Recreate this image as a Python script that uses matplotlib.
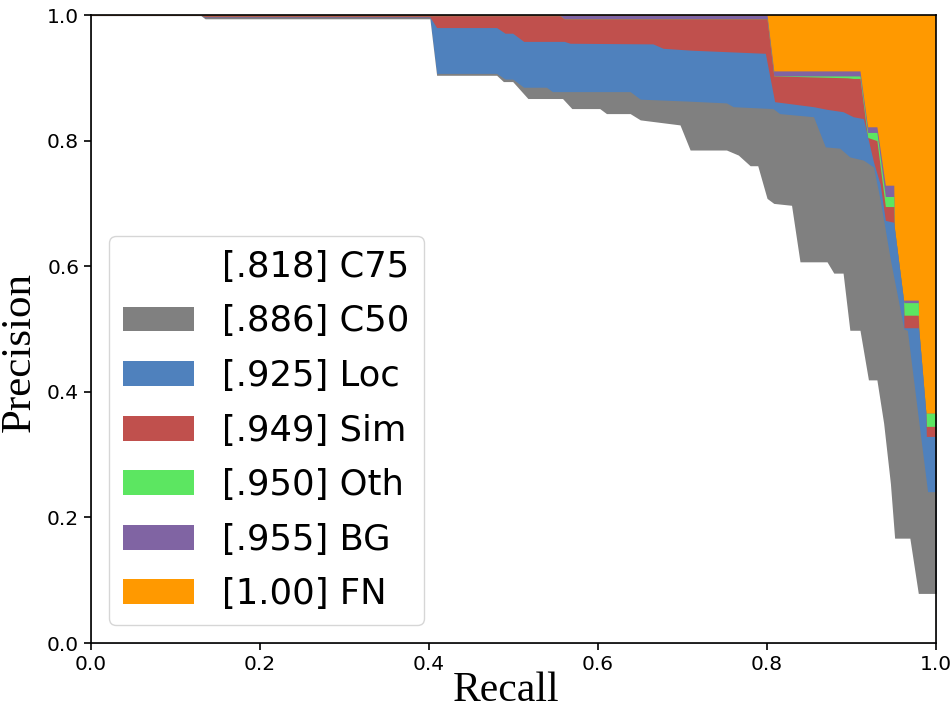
import matplotlib
matplotlib.use('Agg')
import matplotlib.pyplot as plt

# Curvas precision-recall apiladas
labels = ['[.818] C75', '[.886] C50', '[.925] Loc', '[.949] Sim',
          '[.950] Oth', '[.955] BG', '[1.00] FN']
colores = ['#ffffff', '#808080', '#4f81bd', '#c0504d',
           '#5ce661', '#8064a3', '#ff9900']

r_c75 = [0.0, 0.13, 0.135, 0.401, 0.409, 0.480, 0.488, 0.499, 0.517, 0.558,
         0.569, 0.602, 0.610, 0.638, 0.650, 0.697, 0.709, 0.752, 0.766, 0.780,
         0.789, 0.800, 0.808, 0.829, 0.839, 0.871, 0.879, 0.890, 0.898, 0.910,
         0.920, 0.930, 0.938, 0.946, 0.951, 0.969, 0.979, 1.0]
p_c75 = [0.999, 0.999, 0.994, 0.994, 0.904, 0.904, 0.894, 0.894, 0.867, 0.867,
         0.851, 0.851, 0.843, 0.843, 0.833, 0.825, 0.785, 0.785, 0.777, 0.760,
         0.760, 0.708, 0.700, 0.697, 0.607, 0.607, 0.589, 0.589, 0.498, 0.498,
         0.419, 0.419, 0.350, 0.254, 0.167, 0.167, 0.079, 0.079]

r_c50 = [0.0, 0.13, 0.135, 0.401, 0.409, 0.480, 0.490, 0.499, 0.512, 0.539,
         0.546, 0.638, 0.650, 0.705, 0.752, 0.760, 0.807, 0.815, 0.855, 0.869,
         0.886, 0.898, 0.914, 0.926, 0.934, 0.946, 0.962, 0.966, 0.990, 1.0]
p_c50 = [0.999, 0.999, 0.996, 0.996, 0.907, 0.907, 0.898, 0.898, 0.885, 0.885,
         0.878, 0.878, 0.866, 0.863, 0.860, 0.854, 0.851, 0.843, 0.838, 0.790,
         0.788, 0.774, 0.769, 0.758, 0.705, 0.610, 0.500, 0.498, 0.241, 0.241]

r_loc = [0.0, 0.13, 0.135, 0.401, 0.409, 0.480, 0.490, 0.499, 0.512, 0.560,
         0.567, 0.665, 0.677, 0.710, 0.798, 0.809, 0.855, 0.870, 0.890, 0.902,
         0.914, 0.926, 0.934, 0.940, 0.950, 0.9505, 0.9615, 0.962, 0.979, 0.9795,
         0.988, 0.9885, 1.0]
p_loc = [0.999, 0.999, 0.997, 0.997, 0.980, 0.980, 0.971, 0.971, 0.958, 0.958,
         0.955, 0.954, 0.947, 0.944, 0.939, 0.862, 0.854, 0.850, 0.846, 0.838,
         0.835, 0.766, 0.730, 0.673, 0.670, 0.663, 0.546, 0.502, 0.502, 0.500,
         0.366, 0.329, 0.329]

r_sim = [0.0, 0.555, 0.560, 0.800, 0.808, 0.895, 0.902, 0.910, 0.919, 0.930,
         0.940, 0.950, 0.9505, 0.9615, 0.962, 0.979, 0.9795, 0.988, 0.9885, 1.0]
p_sim = [0.999, 0.999, 0.994, 0.994, 0.903, 0.900, 0.899, 0.899, 0.805, 0.800,
         0.695, 0.695, 0.663, 0.546, 0.522, 0.522, 0.500, 0.366, 0.345, 0.345]

r_oth = [0.0, 0.555, 0.560, 0.800, 0.808, 0.910, 0.919, 0.930, 0.940, 0.950,
         0.9505, 0.9615, 0.962, 0.979, 0.9795, 0.988, 1.0]
p_oth = [0.999, 0.999, 0.994, 0.994, 0.903, 0.903, 0.813, 0.813, 0.711, 0.711,
         0.663, 0.546, 0.542, 0.542, 0.500, 0.366, 0.366]

r_bg = [0.0, 0.800, 0.808, 0.910, 0.919, 0.930, 0.940, 0.950, 0.9505, 0.9615,
        0.962, 0.979, 0.9795, 0.988, 1.0]
p_bg = [1.0, 1.0, 0.911, 0.911, 0.822, 0.822, 0.729, 0.729, 0.663, 0.546,
        0.546, 0.546, 0.500, 0.366, 0.366]

r_fn = [0.0, 1.0]
p_fn = [1.0, 1.0]


def main():
    curvas = [(r_c75, p_c75), (r_c50, p_c50), (r_loc, p_loc), (r_sim, p_sim),
              (r_oth, p_oth), (r_bg, p_bg), (r_fn, p_fn)]

    fig = plt.figure(figsize=(9.53, 7.11), dpi=100)
    ax = fig.add_axes([0.0955, 0.0956, 0.8867, 0.8833])

    # Se pinta de arriba hacia abajo, cada capa tapa a la anterior
    handles = [None] * len(curvas)
    for i in reversed(range(len(curvas))):
        r, p = curvas[i]
        handles[i] = ax.fill_between(r, p, 0, color=colores[i], lw=0,
                                     label=labels[i])

    ax.set_xlim(0, 1)
    ax.set_ylim(0, 1)
    ax.set_xticks([0, 0.2, 0.4, 0.6, 0.8, 1.0])
    ax.set_yticks([0, 0.2, 0.4, 0.6, 0.8, 1.0])
    ax.tick_params(labelsize=14.5, length=5, width=1.2)
    for s in ax.spines.values():
        s.set_linewidth(1.2)

    ax.set_xlabel('Recall', family='Liberation Serif', fontsize=30,
                  labelpad=-2, x=0.491)
    ax.set_ylabel('Precision', family='Liberation Serif', fontsize=31,
                  labelpad=6, y=0.463)

    ax.legend(handles=handles, loc='lower left', fontsize=25.5,
              labelspacing=0.58)

    fig.savefig('out.png', dpi=100)


if __name__ == '__main__':
    main()
